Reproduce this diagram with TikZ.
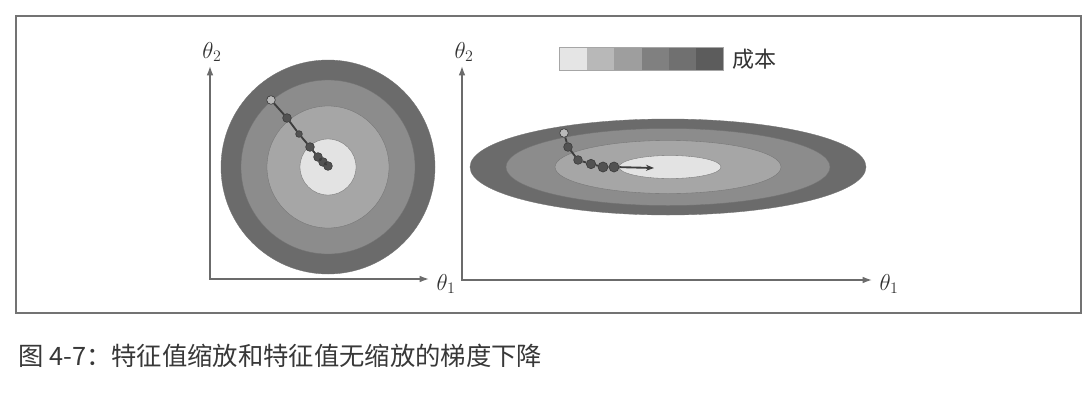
\documentclass[tikz,border=0pt]{standalone}
\usepackage{fontspec}
\newfontfamily\cjk{Noto Sans CJK SC}
\usetikzlibrary{arrows.meta}
\definecolor{ringA}{gray}{0.42}
\definecolor{ringB}{gray}{0.55}
\definecolor{ringC}{gray}{0.65}
\definecolor{ringD}{gray}{0.89}
\definecolor{ringedge}{gray}{0.45}
\definecolor{axisc}{gray}{0.42}
\definecolor{dotc}{gray}{0.32}
\definecolor{dotedge}{gray}{0.24}
\definecolor{framec}{gray}{0.45}
\definecolor{capc}{gray}{0.22}
\definecolor{swA}{gray}{0.90}
\definecolor{swB}{gray}{0.72}
\definecolor{swC}{gray}{0.62}
\definecolor{swD}{gray}{0.50}
\definecolor{swE}{gray}{0.44}
\definecolor{swF}{gray}{0.36}
\begin{document}
\begin{tikzpicture}[x=0.75pt,y=-0.75pt,
  framebox/.style={draw=framec,line width=0.8pt},
  ring/.style={draw=ringedge,line width=0.25pt},
  axis/.style={draw=axisc,line width=1.1pt,{Latex[length=7pt,width=5pt]}-{Latex[length=7pt,width=5pt]}},
  lbl/.style={inner sep=0pt,font=\fontsize{18}{20}\selectfont,text=black!80},
  dot/.style={circle,fill=dotc,draw=dotedge,line width=0.5pt,inner sep=0pt,minimum size=6.5pt},
  pathline/.style={draw=dotedge,line width=1.4pt},
  swatch/.style={inner sep=0pt,minimum width=20.4pt,minimum height=16.5pt,draw=none},
]
\useasboundingbox (0,0) rectangle (1087,400);
\fill[white] (0,0) rectangle (1087,400);
\draw[framebox] (16,16) rectangle (1081,313);

% left: scaled features (circles)
\fill[ringA,ring] (328,167) circle (107);
\fill[ringB,ring] (328,167) circle (87);
\fill[ringC,ring] (328,167) circle (61);
\fill[ringD,ring] (328,167) circle (28);

% right: unscaled features (ellipses)
\fill[ringA,ring] (668,167) ellipse [x radius=198,y radius=48];
\fill[ringB,ring] (668,167) ellipse [x radius=162,y radius=38.5];
\fill[ringC,ring] (668,167) ellipse [x radius=113,y radius=26.5];
\fill[ringD,ring] (670,167) ellipse [x radius=51,y radius=11.5];

% axes left
\coordinate (lo) at (210,279);
\coordinate (ly) at (210,66);
\coordinate (lx) at (429,279);
\draw[axis] (ly) -- (lo) -- (lx);
\node[lbl] (lt2) at (212,52) {$\theta_2$};
\node[lbl] (lt1) at (446,284) {$\theta_1$};

% axes right
\coordinate (ro) at (462,280);
\coordinate (ry) at (462,66);
\coordinate (rx) at (872,280);
\draw[axis] (ry) -- (ro) -- (rx);
\node[lbl] (rt2) at (464,52) {$\theta_2$};
\node[lbl] (rt1) at (889,284) {$\theta_1$};

% left path
\node[dot,fill=gray!55] (l1) at (271,100) {};
\node[dot] (l2) at (287,118) {};
\node[dot,minimum size=5pt] (l3) at (299,134) {};
\node[dot] (l4) at (310,147) {};
\node[dot] (l5) at (318,157) {};
\node[dot] (l6) at (323,162) {};
\node[dot] (l7) at (328,166) {};
\draw[pathline] (l1) -- (l2) -- (l3) -- (l4) -- (l5) -- (l6) -- (l7);

% right path
\node[dot,fill=gray!55] (r1) at (564,133) {};
\node[dot] (r2) at (568,147) {};
\node[dot] (r3) at (578,160) {};
\node[dot,minimum size=7pt] (r4) at (591,164) {};
\node[dot,minimum size=7.5pt] (r5) at (603,167) {};
\node[dot,minimum size=7.5pt] (r6) at (614,167) {};
\coordinate (rend) at (654,168);
\draw[pathline] (r1) -- (r2) -- (r3) -- (r4) -- (r5) -- (r6);
\draw[pathline,-{Stealth[length=6pt,width=4.5pt]}] (r6) -- (rend);

% legend
\node[swatch,fill=swA] (s1) at (573.6,59) {};
\node[swatch,fill=swB] (s2) at (600.8,59) {};
\node[swatch,fill=swC] (s3) at (628.0,59) {};
\node[swatch,fill=swD] (s4) at (655.2,59) {};
\node[swatch,fill=swE] (s5) at (682.4,59) {};
\node[swatch,fill=swF] (s6) at (709.6,59) {};
\draw[draw=gray!70,line width=0.4pt] (s1.north west) rectangle (s6.south east);
\node[anchor=west,inner sep=0pt,font=\cjk\fontsize{16.5}{18}\selectfont,text=black!80] (cost) at (732,59) {成本};

% caption
\node[anchor=west,inner sep=0pt,font=\cjk\fontsize{19}{21}\selectfont,text=capc] (cap) at (18,356) {图 4-7：特征值缩放和特征值无缩放的梯度下降};
\end{tikzpicture}
\end{document}
